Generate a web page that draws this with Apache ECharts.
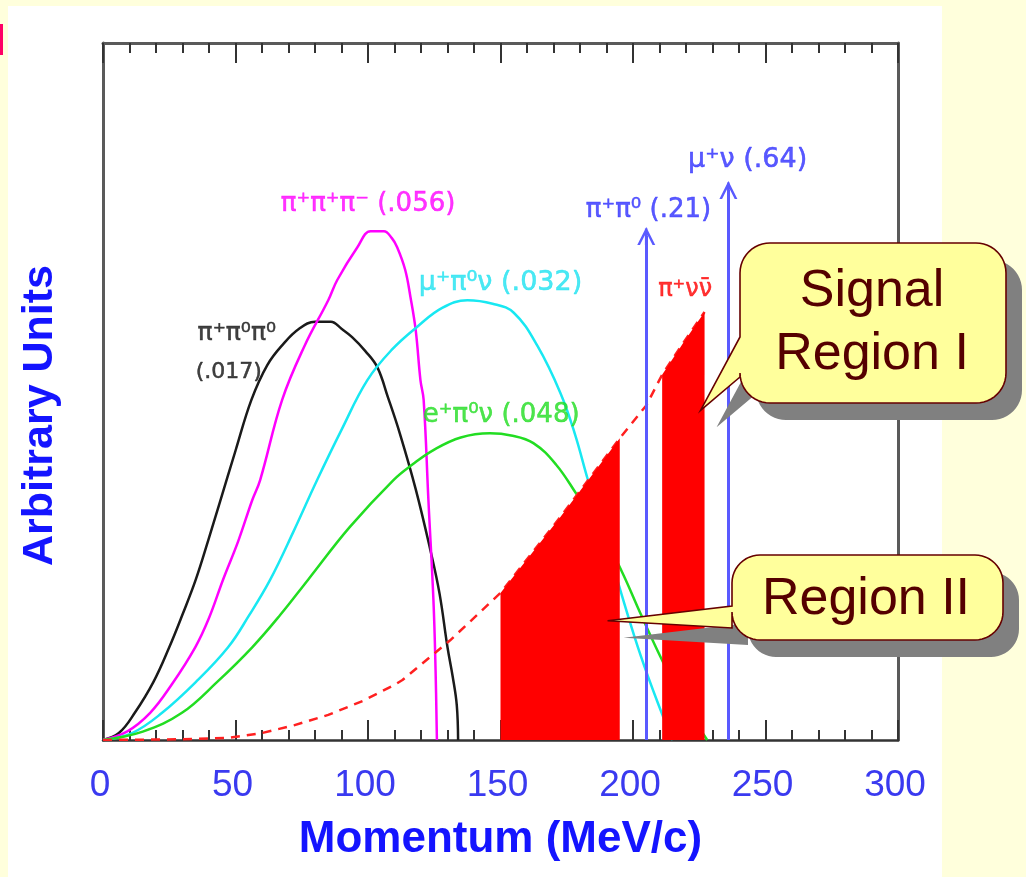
<!DOCTYPE html>
<html>
<head>
<meta charset="utf-8">
<script src="https://cdn.jsdelivr.net/npm/echarts@6/dist/echarts.min.js"></script>
<style>
  html, body { margin: 0; padding: 0; background: #ffffdc; }
  #chart { width: 1026px; height: 877px; }
</style>
</head>
<body>
<div id="chart"></div>
<script>
// Momentum axis ticks (MeV/c)
const xTicks = [0, 50, 100, 150, 200, 250, 300];

// Kaon decay momentum spectra: [momentum MeV/c, arbitrary units]
const k3pi0 = [[0,0],[6,1],[12,3.9],[19,8.3],[25,13.3],[30,18],[35,23],[40,29],[44,34],[50,41.5],[56,48.8],[62,53.8],[68,56.8],[74,59],[80,60],[86,60],[90,59],[94,57.8],[99,55.8],[103.5,53.5],[107.5,49.2],[112,44],[118,36],[123.5,27.3],[127,21],[130,13.3],[132,9],[133.5,5],[134,0]];
const k3pi = [[0,0],[9,1.2],[17.8,3.9],[26,8],[34.8,13.3],[40,17.5],[45.3,23],[51,28.5],[56.3,34.4],[59.3,37.3],[67.6,48.8],[76,56.5],[85,63.1],[88.4,66],[96,70.7],[101,73],[106,73],[109,72],[111,70.7],[114,67.5],[116,63.6],[118,58.8],[119.8,51.6],[121,48.8],[122.8,34.4],[124.7,20],[125.5,10],[126,0]];
const kmu3 = [[0,0],[11,1],[22.3,3.9],[35,8.3],[47.2,13.3],[55,17.8],[63.1,23],[72,30],[80.8,37.3],[90,44.5],[99.7,51.6],[109,56],[118.6,59.3],[128,62],[137.5,63.1],[147,62.6],[155,61.3],[164,56.5],[172.6,49.8],[178,44],[183,37.3],[190,28.5],[196,20.5],[203,12],[210.4,4.3],[215,0]];
const ke3 = [[0,0],[15,1.2],[29.8,3.9],[43,8.3],[56.3,13.3],[67,18],[77.4,23],[93,30.5],[109.6,37.3],[117,39.6],[124.7,41.6],[135,43.4],[146,44],[154,43.7],[162.4,42.6],[171,39.5],[179,35.1],[188,30],[196,24],[203,18],[210.4,11.9],[219,5.5],[228,0]];
const pnn = [[0,0],[30,0.1],[47,0.3],[60,1],[72,2.1],[85,3.6],[98,5.6],[110,7.9],[113,8.6],[131,14.3],[150,21.1],[172.6,32],[195,43.3],[205,48],[211,52.4],[219,57],[227,61.4]];

// Signal regions [from, to] in MeV/c
const signalRegions = [[150, 195], [211, 227]];

// Two-body decay lines
const twoBodyMomenta = [205, 236];
const twoBodyHeights = [72.3, 78.9];

// Curve annotations: text, momentum, height, colour, font size
const curveLabels = [
  ['π⁺π⁺π⁻ (.056)', 66.9, 76.8, '#ff00ff', 26],
  ['μ⁺π⁰ν (.032)', 119, 65.6, '#1ee2f0', 27],
  ['π⁺π⁰π⁰', 35.5, 58.3, '#111111', 25],
  ['(.017)', 34.8, 52.8, '#111111', 22],
  ['e⁺π⁰ν (.048)', 120.5, 46.6, '#22dd22', 26],
  ['π⁺π⁰ (.21)', 182, 76, '#3030ff', 26],
  ['μ⁺ν (.64)', 220.6, 83.2, '#3030ff', 27],
  ['π⁺νν̄', 209.3, 64.6, '#ff0000', 24]
];

const chart = echarts.init(document.getElementById('chart'), null, { renderer: 'canvas' });

const curve = (data, color) => ({
  type: 'line', data, showSymbol: false, smooth: 0.4,
  lineStyle: { color, width: 2.5 }, silent: true, z: 3
});

const regionSeries = signalRegions.map(([lo, hi]) => ({
  type: 'line',
  data: pnn.filter(([p]) => p >= lo && p <= hi),
  showSymbol: false,
  lineStyle: { width: 0, color: '#ff0000' },
  areaStyle: { color: '#ff0000', opacity: 1 },
  silent: true, z: 5
}));

// open arrow head with a short stem up to its apex
const chevron = 'path://M6,0 L12,12 L10.2,12 L6,3.6 L1.8,12 L0,12 Z M5.1,1 L6.9,1 L6.9,12 L5.1,12 Z';

const frame = { show: true, onZero: false, lineStyle: { color: '#5a5a5a', width: 3 } };
const ticks = {
  axisTick: { show: true, inside: true, length: 20, lineStyle: { color: '#333', width: 2 } },
  minorTick: { show: true, splitNumber: 5, length: 10, lineStyle: { color: '#333', width: 2 } }
};

chart.setOption({
  animation: false,
  backgroundColor: '#ffffdc',
  grid: { left: 103, right: 128, top: 43, bottom: 137, containLabel: false, outerBoundsMode: 'none' },
  xAxis: [{
    type: 'value', min: 0, max: 300, interval: 50, position: 'bottom',
    axisLine: { show: true, onZero: false, lineStyle: { color: '#333', width: 2.5 } },
    ...ticks,
    splitLine: { show: false },
    axisLabel: {
      show: true, margin: 27, color: '#3a3af0', fontFamily: 'Liberation Sans', fontSize: 37,
      padding: [0, 6, 0, 0], showMinLabel: true, showMaxLabel: true, hideOverlap: false,
      formatter: v => xTicks.includes(v) ? String(v) : ''
    },
    name: 'Momentum (MeV/c)', nameLocation: 'middle', nameGap: 78,
    nameTextStyle: { color: '#1414ff', fontFamily: 'Liberation Sans', fontWeight: 'bold', fontSize: 44 }
  }, {
    type: 'value', min: 0, max: 300, interval: 50, position: 'top',
    axisLine: frame, ...ticks,
    splitLine: { show: false }, axisLabel: { show: false }
  }],
  yAxis: [{
    type: 'value', min: 0, max: 100, position: 'left',
    axisLine: frame, axisTick: { show: false }, axisLabel: { show: false }, splitLine: { show: false },
    name: 'Arbitrary Units', nameLocation: 'middle', nameGap: 41,
    nameTextStyle: { color: '#1414ff', fontFamily: 'Liberation Sans', fontWeight: 'bold', fontSize: 43, padding: [0, 48, 0, 0] }
  }, {
    type: 'value', min: 0, max: 100, position: 'right',
    axisLine: frame, axisTick: { show: false }, axisLabel: { show: false }, splitLine: { show: false }
  }],
  series: [
    curve(k3pi0, '#1a1a1a'),
    curve(k3pi, '#ff00ff'),
    curve(kmu3, '#18e8f2'),
    curve(ke3, '#22dd22'),
    {
      type: 'line', data: pnn, showSymbol: false, silent: true, z: 4,
      lineStyle: { color: '#ff2020', width: 2.5, type: [9, 7] }
    },
    ...regionSeries,
    {
      type: 'lines', coordinateSystem: 'cartesian2d', silent: true, z: 6,
      symbol: ['none', chevron], symbolSize: [17, 18],
      lineStyle: { color: '#5a5aff', width: 3, opacity: 1 },
      itemStyle: { color: '#5a5aff' },
      data: twoBodyMomenta.map((p, i) => ({ coords: [[p, 0], [p, twoBodyHeights[i]]] }))
    },
    {
      type: 'scatter', silent: true, z: 7, symbolSize: 1, itemStyle: { color: 'rgba(0,0,0,0)' },
      data: curveLabels.map(([text, p, v, color, size]) => ({
        value: [p, v], name: text,
        label: { color, fontSize: size, textBorderColor: color, textBorderWidth: 0.5 }
      })),
      label: {
        show: true, position: 'right', distance: 0, formatter: '{b}',
        fontFamily: 'DejaVu Sans', fontSize: 24
      }
    }
  ]
});

// Speech-balloon outline: rounded box with a wedge pointing from its left edge
function balloonPoints(x0, y0, x1, y1, r, ya, yb, tip) {
  const pts = [];
  const arc = (cx, cy, a0, a1) => {
    for (let i = 0; i <= 12; i++) {
      const a = (a0 + (a1 - a0) * i / 12) * Math.PI / 180;
      pts.push([cx + r * Math.cos(a), cy + r * Math.sin(a)]);
    }
  };
  arc(x1 - r, y0 + r, -90, 0);
  arc(x1 - r, y1 - r, 0, 90);
  arc(x0 + r, y1 - r, 90, 180);
  pts.push([x0, yb], [tip[0], tip[1]], [x0, ya]);
  arc(x0 + r, y0 + r, 180, 270);
  return pts;
}

const tipI = chart.convertToPixel({ xAxisIndex: 0, yAxisIndex: 0 }, [225.5, 47.3]);
const tipII = chart.convertToPixel({ xAxisIndex: 0, yAxisIndex: 0 }, [190.4, 17.1]);
const ptsI = balloonPoints(740, 243, 1006, 403, 30, 337, 377, tipI);
const ptsII = balloonPoints(732, 555, 1003, 640, 28, 606, 628, tipII);

const balloon = (points, lines) => [
  { type: 'polygon', x: 16, y: 17, z: 100, silent: true, shape: { points }, style: { fill: '#808080' } },
  { type: 'polygon', z: 101, silent: true, shape: { points }, style: { fill: '#ffff9c', stroke: '#660000', lineWidth: 1.6 } },
  ...lines.map(([text, x, y]) => ({
    type: 'text', x, y, z: 102, silent: true,
    style: { text, fill: '#550000', font: '52px "Liberation Sans"', align: 'center', verticalAlign: 'middle' }
  }))
];

chart.setOption({
  graphic: [
    { type: 'rect', z: -10, silent: true, shape: { x: 8, y: 6, width: 934, height: 871 }, style: { fill: '#ffffff' } },
    { type: 'rect', z: -9, silent: true, shape: { x: 0, y: 24, width: 3, height: 31 }, style: { fill: '#ff0066' } },
    ...balloon(ptsI, [['Signal', 872, 292], ['Region I', 872, 355]]),
    ...balloon(ptsII, [['Region II', 866, 600]])
  ]
});
</script>
</body>
</html>
